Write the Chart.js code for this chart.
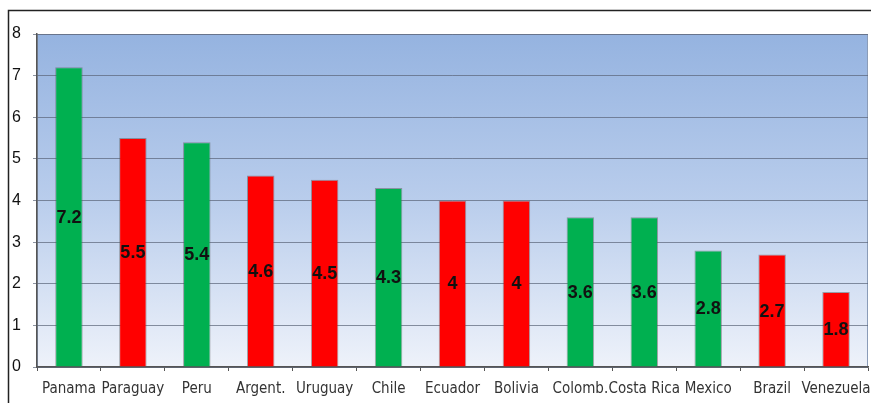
<!DOCTYPE html>
<html>
<head>
<meta charset="utf-8">
<script src="https://cdn.jsdelivr.net/npm/chart.js@4"></script>
<style>
  html, body { margin:0; padding:0; background:#fff; }
  #wrap { width:871px; height:403px; position:relative; }
</style>
</head>
<body>
<div id="wrap"><canvas id="chart"></canvas></div>
<script>
// ---------- DATA ----------
const countries = ["Panama","Paraguay","Peru","Argent.","Uruguay","Chile","Ecuador","Bolivia","Colomb.","Costa Rica","Mexico","Brazil","Venezuela"];
const values = [7.2, 5.5, 5.4, 4.6, 4.5, 4.3, 4, 4, 3.6, 3.6, 2.8, 2.7, 1.8];
const barColors = ["#00b050","#ff0000","#00b050","#ff0000","#ff0000","#00b050","#ff0000","#ff0000","#00b050","#00b050","#00b050","#ff0000","#ff0000"];
const yTicks = [0,1,2,3,4,5,6,7,8];

// ---------- PLUGINS ----------
const backdrop = {
  id:"backdrop",
  beforeDraw(chart){
    const {ctx, chartArea:a} = chart;
    ctx.save();
    // outer frame
    ctx.strokeStyle = "#222";
    ctx.lineWidth = 1.5;
    ctx.beginPath();
    ctx.moveTo(8.5, 403); ctx.lineTo(8.5, 10.5); ctx.lineTo(871, 10.5);
    ctx.stroke();
    // plot gradient
    const g = ctx.createLinearGradient(0, a.top, 0, a.bottom);
    g.addColorStop(0, "#95b3e0");
    g.addColorStop(0.5, "#b9cdec");
    g.addColorStop(1, "#eef2fa");
    ctx.fillStyle = g;
    ctx.fillRect(a.left, a.top, a.right - a.left, a.bottom - a.top);
    ctx.strokeStyle = "#8a9cb8";
    ctx.lineWidth = 1;
    ctx.strokeRect(a.left + 0.5, a.top + 0.5, a.right - a.left - 1, a.bottom - a.top);
    ctx.restore();
  }
};

const valueLabels = {
  id:"valueLabels",
  afterDatasetsDraw(chart){
    const {ctx} = chart;
    const meta = chart.getDatasetMeta(0);
    ctx.save();
    ctx.font = "bold 18px Arial, 'Liberation Sans', sans-serif";
    ctx.fillStyle = "#111";
    ctx.textAlign = "center";
    ctx.textBaseline = "middle";
    meta.data.forEach((bar, i) => {
      const {x, y, base} = bar.getProps(["x","y","base"], true);
      ctx.fillText(String(values[i]), x, (y + base) / 2 + 1);
    });
    ctx.restore();
  }
};

// ---------- CHART ----------
new Chart(document.getElementById("chart"), {
  type:"bar",
  data:{
    labels:countries,
    datasets:[{
      data:values,
      backgroundColor:barColors,
      borderColor:"rgba(90,90,90,0.5)",
      borderWidth:1,
      barPercentage:0.43,
      categoryPercentage:1
    }]
  },
  options:{
    responsive:true,
    maintainAspectRatio:false,
    animation:false,
    layout:{padding:{top:34, right:3, left:0, bottom:0}},
    plugins:{legend:{display:false}, tooltip:{enabled:false}},
    scales:{
      x:{
        grid:{display:true, drawOnChartArea:false, color:"#555", tickLength:4, offset:true},
        border:{color:"#555", width:1.5},
        ticks:{
          autoSkip:false, maxRotation:0, padding:9,
          color:"#333",
          font:{family:"'Liberation Sans Narrow', 'DejaVu Sans Condensed', Arial, sans-serif", size:15}
        },
        afterFit(s){ s.height = 36; s.paddingLeft = 0; s.paddingRight = 0; }
      },
      y:{
        min:0, max:8,
        afterBuildTicks(s){ s.ticks = yTicks.map(v => ({value:v})); },
        grid:{color:"rgba(90,100,120,0.7)", tickLength:4},
        border:{color:"#555", width:1.5},
        ticks:{
          padding:12, color:"#111",
          font:{family:"Arial, 'Liberation Sans', sans-serif", size:16}
        },
        afterFit(s){ s.width = 37; }
      }
    }
  },
  plugins:[backdrop, valueLabels]
});
</script>
</body>
</html>
